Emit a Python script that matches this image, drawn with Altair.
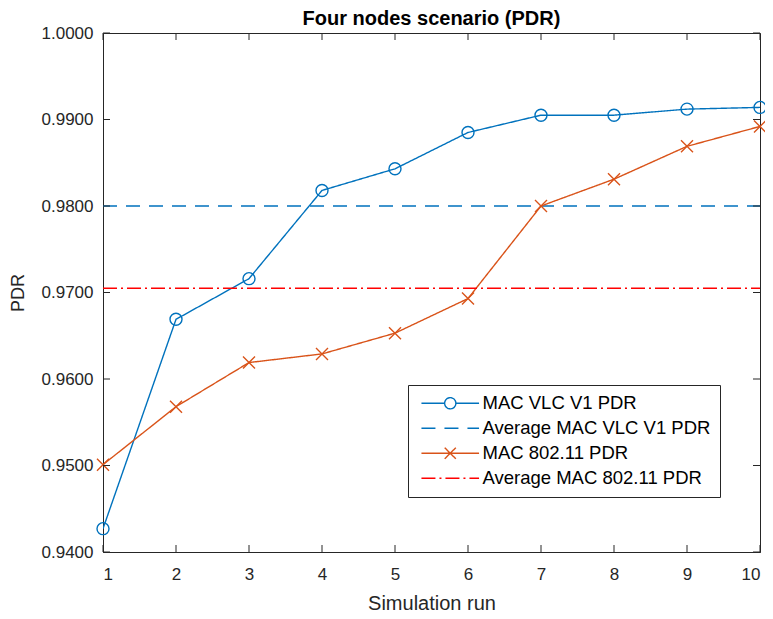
import altair as alt
import pandas as pd

runs = [1, 2, 3, 4, 5, 6, 7, 8, 9, 10]
vlc_pdr = [0.9427, 0.9669, 0.9716, 0.9818, 0.9843, 0.9885, 0.9905, 0.9905, 0.9912, 0.9914]
wifi_pdr = [0.9501, 0.9568, 0.9619, 0.9629, 0.9653, 0.9693, 0.9800, 0.9831, 0.9869, 0.9892]
avg_vlc = 0.9800
avg_wifi = 0.9705

series_names = ["MAC VLC V1 PDR", "Average MAC VLC V1 PDR", "MAC 802.11 PDR", "Average MAC 802.11 PDR"]
series_colors = ["#0072BD", "#0072BD", "#D95319", "#FF0000"]
series_dashes = [[1, 0], [14, 9], [1, 0], [14, 4, 2, 4]]

x_ticks = [1, 2, 3, 4, 5, 6, 7, 8, 9, 10]
y_ticks = [0.94, 0.95, 0.96, 0.97, 0.98, 0.99, 1.00]

X_MIN, X_MAX = 1, 10
Y_MIN, Y_MAX = 0.94, 1.0

rows = []
for r, v in zip(runs, vlc_pdr):
    rows.append({"run": r, "pdr": v, "series": series_names[0]})
for r in (X_MIN, X_MAX):
    rows.append({"run": r, "pdr": avg_vlc, "series": series_names[1]})
for r, v in zip(runs, wifi_pdr):
    rows.append({"run": r, "pdr": v, "series": series_names[2]})
for r in (X_MIN, X_MAX):
    rows.append({"run": r, "pdr": avg_wifi, "series": series_names[3]})
df = pd.DataFrame(rows)

df_vlc = pd.DataFrame({"run": runs, "pdr": vlc_pdr})
df_wifi = pd.DataFrame({"run": runs, "pdr": wifi_pdr})

xscale = alt.Scale(domain=[X_MIN, X_MAX], nice=False, zero=False)
yscale = alt.Scale(domain=[Y_MIN, Y_MAX], nice=False, zero=False)

FONT = "Liberation Sans"
TXT = "#262626"
LW = 1.4

legend_paths = {
    series_names[0]: "M-3.6,0H-0.7A0.7,0.7 0 1 1 0.7,0A0.7,0.7 0 1 1 -0.7,0M0.7,0H3.6",
    series_names[2]: "M-3.6,0H3.6M-0.7,-0.7L0.7,0.7M-0.7,0.7L0.7,-0.7",
}
shape_expr = " : ".join(
    [f"datum.value === '{k}' ? '{v}'" for k, v in legend_paths.items()]
) + " : 'M-3.6,0H3.6'"

x_enc = alt.X("run:Q", scale=xscale,
              axis=alt.Axis(title="Simulation run", values=x_ticks, tickSize=0,
                            labelPadding=14, titlePadding=11, grid=False, format="d",
                            titleFontSize=20))
y_enc = alt.Y("pdr:Q", scale=yscale,
              axis=alt.Axis(title="PDR", values=y_ticks, tickSize=0, format=".4f",
                            labelPadding=10, titlePadding=14, grid=False,
                            titleFontSize=18))

lines = alt.Chart(df).mark_line(strokeWidth=LW, clip=True).encode(
    x=x_enc,
    y=y_enc,
    color=alt.Color("series:N", scale=alt.Scale(domain=series_names, range=series_colors),
                    legend=alt.Legend(
                        title=None, orient="none", legendX=305, legendY=352,
                        fillColor="white", strokeColor=TXT, padding=9,
                        labelFont=FONT, labelFontSize=18.5, labelColor="black",
                        symbolSize=256, symbolStrokeWidth=LW, symbolOffset=24,
                        labelOffset=23, rowPadding=6, labelLimit=400,
                        symbolType={"expr": shape_expr},
                        symbolFillColor="transparent",
                    )),
    strokeDash=alt.StrokeDash("series:N", scale=alt.Scale(domain=series_names, range=series_dashes)),
    detail="series:N",
)

pts_vlc = alt.Chart(df_vlc).mark_point(shape="circle", size=144, filled=False,
                                       color="#0072BD", strokeWidth=LW, opacity=1).encode(
    x=alt.X("run:Q", scale=xscale), y=alt.Y("pdr:Q", scale=yscale))
pts_wifi = alt.Chart(df_wifi).mark_point(shape="M-1,-1L1,1M-1,1L1,-1", size=144, filled=False,
                                         color="#D95319", strokeWidth=LW, opacity=1).encode(
    x=alt.X("run:Q", scale=xscale), y=alt.Y("pdr:Q", scale=yscale))

# inward tick marks on all four sides
TLX = 7 / 657 * (X_MAX - X_MIN)
TLY = 7 / 519 * (Y_MAX - Y_MIN)
tx = pd.DataFrame({"t": x_ticks})
ty = pd.DataFrame({"t": y_ticks})
tick_style = dict(color=TXT, strokeWidth=1)
bottom_ticks = alt.Chart(tx).mark_rule(**tick_style).encode(
    x=alt.X("t:Q", scale=xscale), y=alt.datum(Y_MIN, scale=yscale), y2=alt.datum(Y_MIN + TLY))
top_ticks = alt.Chart(tx).mark_rule(**tick_style).encode(
    x=alt.X("t:Q", scale=xscale), y=alt.datum(Y_MAX, scale=yscale), y2=alt.datum(Y_MAX - TLY))
left_ticks = alt.Chart(ty).mark_rule(**tick_style).encode(
    y=alt.Y("t:Q", scale=yscale), x=alt.datum(X_MIN, scale=xscale), x2=alt.datum(X_MIN + TLX))
right_ticks = alt.Chart(ty).mark_rule(**tick_style).encode(
    y=alt.Y("t:Q", scale=yscale), x=alt.datum(X_MAX, scale=xscale), x2=alt.datum(X_MAX - TLX))

chart = alt.layer(
    lines, pts_vlc, pts_wifi, bottom_ticks, top_ticks, left_ticks, right_ticks
).properties(
    width=657, height=519,
    title=alt.Title("Four nodes scenario (PDR)", font=FONT, fontSize=20, fontWeight="bold",
                    color="black", offset=-5, anchor="middle", frame="group"),
    autosize=alt.AutoSizeParams(type="none"),
    padding={"left": 95, "top": 25, "right": 5, "bottom": 60},
).configure_view(
    stroke=TXT, strokeWidth=1
).configure_axis(
    labelFont=FONT, labelFontSize=17, labelColor=TXT,
    titleFont=FONT, titleColor=TXT, titleFontWeight="normal",
    domainColor=TXT, domainWidth=1,
)

chart.save("out.html", embed_options={"renderer": "svg", "actions": False})
